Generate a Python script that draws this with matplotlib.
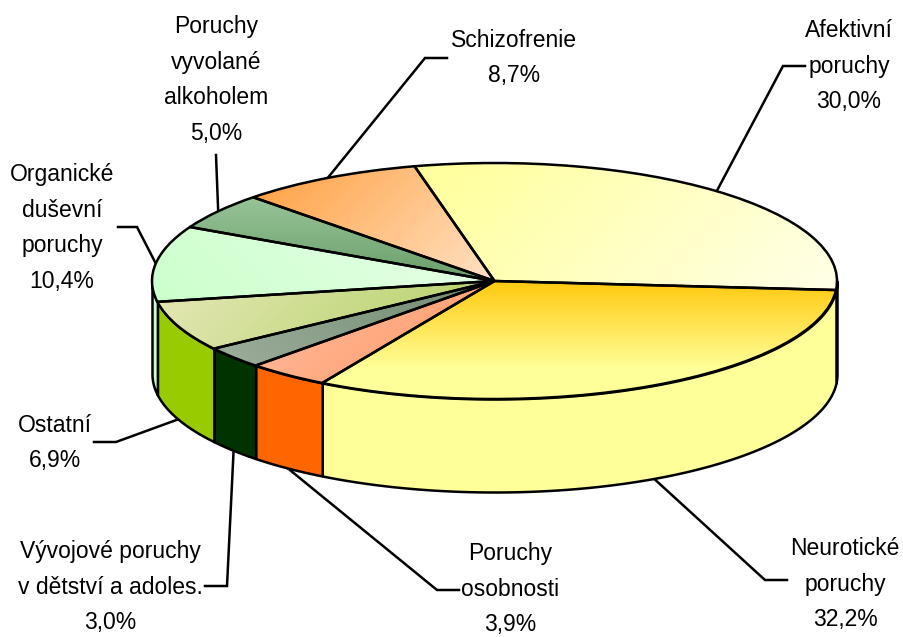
"""
3D-style pie chart of mental disorder shares, drawn on a squashed matplotlib pie.
"""

import numpy as np
import matplotlib
matplotlib.use("Agg")
import matplotlib.pyplot as plt
from matplotlib.colors import to_rgb

categories = [
    "Afektivní\nporuchy",
    "Neurotické\nporuchy",
    "Poruchy\nosobnosti",
    "Vývojové poruchy\nv dětství a adoles.",
    "Ostatní",
    "Organické\nduševní\nporuchy",
    "Poruchy\nvyvolané\nalkoholem",
    "Schizofrenie",
]
values = [30.0, 32.2, 3.9, 3.0, 6.9, 10.4, 5.0, 8.7]

# top face gradients: start colour, end colour, direction in pixels, how early the end is reached
grad_start = ["#FFFF99", "#FFC90E", "#FFBC9F", "#9EAE9C", "#E6E8B8", "#CCFFCC", "#98C498", "#FF9F3F"]
grad_end = ["#FFFFE8", "#FFFF99", "#FF9966", "#6F8A6F", "#AFD060", "#E8FFE8", "#6A9E6A", "#FFE2C4"]
grad_dir = [(1, 1), (0, 1), (1, 1), (1, -1), (1, 1), (1, -1), (0, 1), (1, 1)]
grad_gain = [1.0, 1.35, 1.0, 1.0, 1.0, 1.0, 1.0, 1.0]
side_colors = ["#FFFF99", "#FFFF99", "#FF6600", "#003300", "#99CC00", "#CCFFCC", "#669966", "#FF9933"]

# label centre and leader route, in pixels of the 904x637 picture
label_pos = [(849, 66), (845, 584), (510, 589), (110, 587), (55, 443), (62, 228), (216, 80), (514, 58)]
leader_via = [
    [(783, 66), (805, 66)],
    [(765, 580), (787, 580)],
    [(437, 590), (459, 590)],
    [(227, 586), (205, 586)],
    [(116, 442), (94, 442)],
    [(137, 227), (118, 227)],
    [(216, 155)],
    [(425, 58), (447, 58)],
]

W, H = 904, 637
CX, CY = 494.5, 281.0
RX, RY = 342.5, 118.0
DEPTH = 93.0 / RY
START = 103.5  # degrees, first slice boundary
LW = 1.8


def to_data(px, py):
    return (px - CX) / RX, (CY - py) / RY


fig = plt.figure(figsize=(W / 100, H / 100), dpi=100)
ax = fig.add_axes([0, 0, 1, 1])

wedges, _ = ax.pie(
    values,
    startangle=START,
    counterclock=False,
    radius=1,
    center=(0, 0),
    wedgeprops={"edgecolor": "black", "linewidth": LW, "facecolor": "none", "zorder": 3},
)
ax.set_aspect("auto")

xlim = (to_data(0, 0)[0], to_data(W, 0)[0])
ylim = (to_data(0, H)[1], to_data(0, 0)[1])

# slice boundaries, clockwise from the start angle
shares = np.array(values) / sum(values)
edges = START - 360 * np.concatenate([[0], np.cumsum(shares)])

for i, wedge in enumerate(wedges):
    # rim of the slice, only where it faces the viewer
    theta = np.linspace(edges[i + 1], edges[i], 200)
    theta = theta[np.sin(np.radians(theta)) <= 0]
    if theta.size > 1:
        xs = np.cos(np.radians(theta))
        ys = np.sin(np.radians(theta))
        ax.fill_between(xs, ys, ys - DEPTH, facecolor=side_colors[i],
                        edgecolor="black", linewidth=LW, zorder=1)

    # gradient on the top face
    verts = wedge.get_path().vertices
    x0, y0 = verts.min(axis=0)
    x1, y1 = verts.max(axis=0)
    x0, x1 = max(x0, -1), min(x1, 1)
    y0, y1 = max(y0, -1), min(y1, 1)
    gx, gy = np.meshgrid(np.linspace(0, (x1 - x0) * RX, 200),
                         np.linspace(0, (y1 - y0) * RY, 200))
    dx, dy = grad_dir[i]
    t = gx * dx + gy * dy
    t = (t - t.min()) / (t.max() - t.min())
    t = np.clip(t * grad_gain[i], 0, 1)
    c1 = np.array(to_rgb(grad_start[i]))
    c2 = np.array(to_rgb(grad_end[i]))
    img = c1 + t[..., None] * (c2 - c1)
    im = ax.imshow(img, extent=(x0, x1, y1, y0), origin="lower", aspect="auto",
                   interpolation="bilinear", zorder=2)
    im.set_clip_path(wedge)

    # leader from the rim at the slice middle, dropped to the lower rim in front
    mid = np.radians((edges[i] + edges[i + 1]) / 2)
    sx, sy = np.cos(mid), np.sin(mid)
    if sy < 0:
        sy -= DEPTH
    route = [to_data(*p) for p in leader_via[i]]
    ax.plot([sx] + [p[0] for p in route], [sy] + [p[1] for p in route],
            color="black", linewidth=LW, zorder=0.5, solid_joinstyle="miter")

    # label
    lx, ly = to_data(*label_pos[i])
    pct = f"{values[i]:.1f}".replace(".", ",")
    ax.text(lx, ly, f"{categories[i]}\n{pct}%",
            ha="center", va="center", multialignment="center",
            family="Liberation Sans", fontsize=16.5, linespacing=1.7,
            color="black", zorder=4)

ax.set_xlim(xlim)
ax.set_ylim(ylim)
ax.set_axis_off()

fig.savefig("out.png", dpi=100)
